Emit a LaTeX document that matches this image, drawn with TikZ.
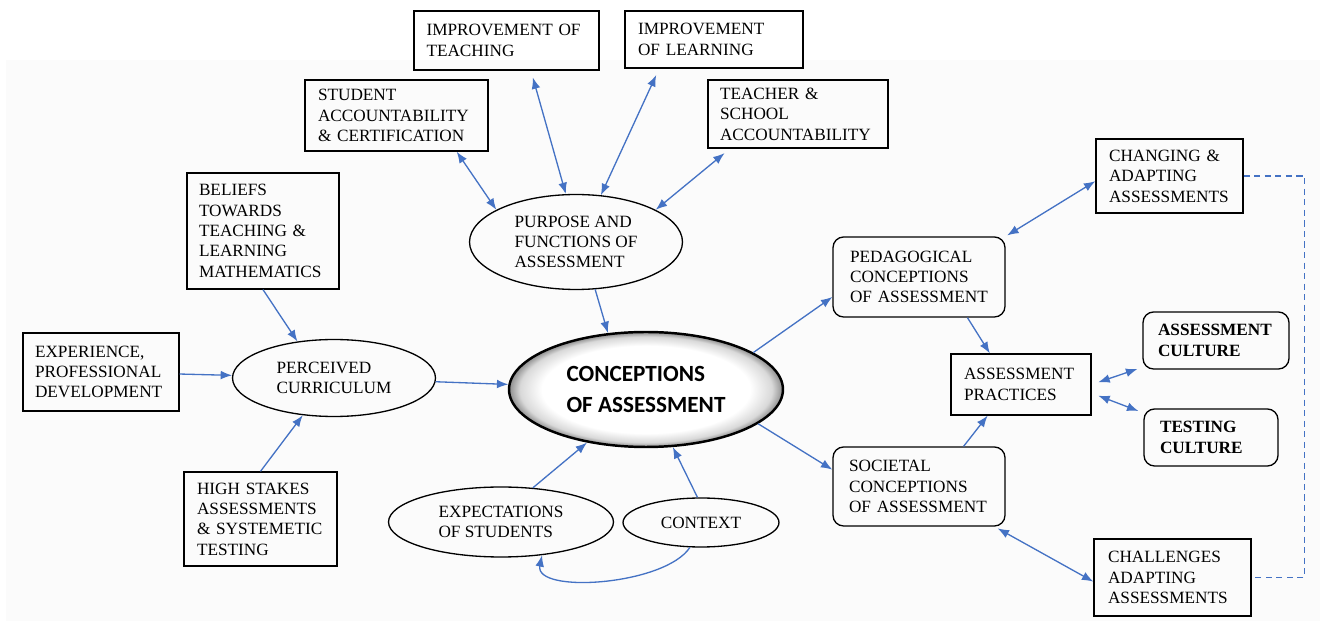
\documentclass[tikz,border=0pt]{standalone}
\usepackage{fontspec}
\setmainfont{Liberation Serif}
\newfontfamily\calibri{Carlito}
\usetikzlibrary{arrows.meta,shapes.geometric}
\definecolor{linkblue}{HTML}{4472C4}
\pgfdeclareradialshading{rimshade}{\pgfpoint{0bp}{0bp}}{color(0bp)=(white); color(19bp)=(white); color(23bp)=(black!15); color(25bp)=(black!45); color(50bp)=(black!45)}

\begin{document}
\begin{tikzpicture}[x=0.02cm, y=-0.02cm,
   box/.style={draw, rectangle, line width=0.75pt, inner sep=0pt, align=left, font=\fontsize{9.8}{11.6}\selectfont},
   roundbox/.style={box, rounded corners=6pt},
   oval/.style={draw, ellipse, line width=0.75pt, inner sep=0pt, align=left, font=\fontsize{9.8}{11.6}\selectfont},
   link/.style={draw=linkblue, line width=0.75pt, -{Latex[length=6.5pt,width=5pt]}},
   bilink/.style={link, {Latex[length=6.5pt,width=5pt]}-{Latex[length=6.5pt,width=5pt]}}]
   \useasboundingbox (0,0) rectangle (1320,621);
   \fill[black!1.5] (6,60) rectangle (1320,621);
   % purposes
   \node (imt) at (506.5,40.5) [box, minimum width=3.7cm, minimum height=1.18cm, text width=3.2cm] {IMPROVEMENT~OF\\TEACHING};
   \node (iml) at (714,39.5) [box, minimum width=3.56cm, minimum height=1.14cm, text width=3.04cm] {IMPROVEMENT\\OF~LEARNING};
   \node (sac) at (396.5,115.5) [box, minimum width=3.66cm, minimum height=1.42cm, text width=3.14cm] {STUDENT\\ACCOUNTABILITY\\\&~CERTIFICATION};
   \node (tac) at (798,114) [box, minimum width=3.6cm, minimum height=1.36cm, text width=3.12cm] {TEACHER~\&\\SCHOOL\\ACCOUNTABILITY};
   \node (pur) at (576,242) [oval, minimum width=4.26cm, minimum height=1.9cm] {PURPOSE~AND\\FUNCTIONS~OF\\ASSESSMENT};
   % curriculum
   \node (bel) at (263,231) [box, minimum width=3.04cm, minimum height=2.32cm, text width=2.56cm] {BELIEFS\\TOWARDS\\TEACHING~\&\\LEARNING\\MATHEMATICS};
   \node (exp) at (101,372) [box, minimum width=3.12cm, minimum height=1.56cm, text width=2.64cm] {EXPERIENCE,\\PROFESSIONAL\\DEVELOPMENT};
   \node (hst) at (260.5,519) [box, minimum width=3.06cm, minimum height=1.88cm, text width=2.54cm] {HIGH~STAKES\\ASSESSMENTS\\\&~SYSTEMETIC\\TESTING};
   \node (per) at (334,378) [oval, minimum width=4.06cm, minimum height=1.54cm] {PERCEIVED\\CURRICULUM};
   % centre
   \node (con) at (646,389.5) [draw, ellipse, line width=1.4pt, shade, shading=rimshade, inner sep=0pt, minimum width=5.48cm, minimum height=2.3cm, align=left, font=\calibri\bfseries\fontsize{13.2}{17.6}\selectfont] {CONCEPTIONS\\OF~ASSESSMENT};
   \node (est) at (501,522) [oval, minimum width=4.5cm, minimum height=1.4cm] {EXPECTATIONS\\OF~STUDENTS};
   \node (ctx) at (701,522.5) [oval, minimum width=3.12cm, minimum height=0.98cm] {CONTEXT};
   % practices
   \node (ped) at (919,277) [roundbox, minimum width=3.44cm, minimum height=1.6cm, text width=2.76cm] {PEDAGOGICAL\\CONCEPTIONS\\OF~ASSESSMENT};
   \node (soc) at (919,486.5) [roundbox, minimum width=3.44cm, minimum height=1.58cm, text width=2.8cm] {SOCIETAL\\CONCEPTIONS\\OF~ASSESSMENT};
   \node (prc) at (1021,384.5) [box, minimum width=2.8cm, minimum height=1.22cm, text width=2.28cm] {ASSESSMENT\\PRACTICES};
   \node (chg) at (1169.5,176) [box, minimum width=2.94cm, minimum height=1.48cm, text width=2.42cm] {CHANGING~\&\\ADAPTING\\ASSESSMENTS};
   \node (acu) at (1216,340.5) [roundbox, minimum width=2.92cm, minimum height=1.14cm, text width=2.32cm, font=\fontsize{9.8}{11.6}\selectfont\bfseries] {ASSESSMENT\\CULTURE};
   \node (tcu) at (1211,437.5) [roundbox, minimum width=2.68cm, minimum height=1.14cm, text width=2.04cm, font=\fontsize{9.8}{11.6}\selectfont\bfseries] {TESTING\\CULTURE};
   \node (chl) at (1172.5,577.5) [box, minimum width=3.14cm, minimum height=1.54cm, text width=2.58cm] {CHALLENGES\\ADAPTING\\ASSESSMENTS};
   % links
   \draw[link] (bel.south) -- (per.135);
   \draw[link] (exp) -- (per);
   \draw[link] (hst.north) -- (per.-130);
   \draw[link] (per) -- (con);
   \draw[link] (pur.-68) -- (con.124);
   \draw[bilink] (sac.-31) -- (pur.158);
   \draw[bilink, shorten <=4pt] (imt.-51.5) -- (pur.102);
   \draw[bilink, shorten <=4pt] (iml.-152) -- (pur.62);
   \draw[bilink, shorten <=4pt] (tac.-153) -- (pur.22);
   \draw[link] (con.19) -- (ped.-167);
   \draw[link] (con.-17) -- (soc.169);
   \draw[link] (ped.-40) -- (prc.135.5);
   \draw[link] (soc.42) -- (prc.-137);
   \draw[bilink, shorten <=1pt] (ped.north east) -- (chg.-176);
   \draw[bilink, shorten <=2pt] (soc.-28) -- (chl.-177);
   \draw[bilink, shorten <=4pt, shorten >=3pt] (prc.east) -- (acu.-160);
   \draw[bilink, shorten <=4pt, shorten >=3pt] (prc.-7) -- (tcu.160);
   \draw[link] (est.47) -- (con.-138);
   \draw[link] (ctx.98) -- (con.-65);
   \draw[link] (ctx.-114) .. controls +(-25,38) and +(-8,39) .. (est.-39);
   \draw[linkblue, line width=0.75pt, dash pattern=on 3.5pt off 2.5pt] (chg.east) -- ++(61,0) |- (chl.east);
\end{tikzpicture}
\end{document}
